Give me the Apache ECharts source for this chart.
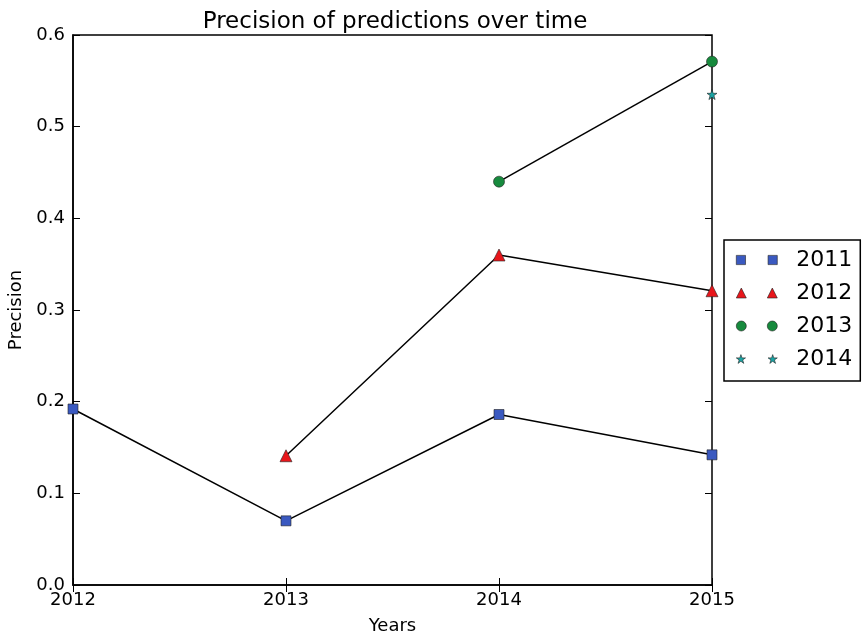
<!DOCTYPE html>
<html>
<head>
<meta charset="utf-8">
<script src="https://cdn.jsdelivr.net/npm/echarts@6/dist/echarts.min.js"></script>
<style>
html,body{margin:0;padding:0;background:#fff;}
#chart{width:862px;height:638px;}
</style>
</head>
<body>
<div id="chart"></div>
<script>
var years = [2012, 2013, 2014, 2015];
var seriesNames = ['2011', '2012', '2013', '2014'];
var v2011 = [0.192, 0.070, 0.186, 0.142];
var v2012 = [null, 0.141, 0.360, 0.321];
var v2013 = [null, null, 0.440, 0.571];
var v2014 = [null, null, null, 0.535];
var yTicks = [0.0, 0.1, 0.2, 0.3, 0.4, 0.5, 0.6];

var STAR = 'path://M50,0L61.8,35.4L100,35.4L69.1,57.3L80.9,95.1L50,72.4L19.1,95.1L30.9,57.3L0,35.4L38.2,35.4Z';
function starAt(x, s) {
  var pts = [[50,0],[61.8,35.4],[100,35.4],[69.1,57.3],[80.9,95.1],[50,72.4],[19.1,95.1],[30.9,57.3],[0,35.4],[38.2,35.4]];
  return 'M' + pts.map(function (p) { return (x + p[0] * s / 100).toFixed(2) + ',' + (p[1] * s / 100).toFixed(2); }).join('L') + 'Z';
}
var legendIcons = [
  'path://M0.5,0.5h9v9h-9z M31.5,0.5h9v9h-9z',
  'path://M5,0L10,10L0,10Z M36,0L41,10L31,10Z',
  'path://M0,5a5,5 0 1,0 10,0a5,5 0 1,0 -10,0z M31,5a5,5 0 1,0 10,0a5,5 0 1,0 -10,0z',
  'path://' + starAt(1, 9) + ' ' + starAt(32, 9)
];
var colors = ['#3a59c0', '#e8161b', '#178a3d', '#1aa5a5'];
var symbols = ['rect', 'triangle', 'circle', STAR];
var sizes = [10, 12, 11, 10];
var vals = [v2011, v2012, v2013, v2014];

function pairs(arr) {
  var out = [];
  for (var i = 0; i < years.length; i++) if (arr[i] !== null) out.push([years[i], arr[i]]);
  return out;
}

var series = vals.map(function (arr, i) {
  return {
    name: seriesNames[i],
    type: 'line',
    data: pairs(arr),
    symbol: symbols[i],
    symbolSize: sizes[i],
    showAllSymbol: true,
    clip: false,
    lineStyle: { color: '#000', width: 1.5 },
    itemStyle: { color: colors[i], borderColor: '#222', borderWidth: 0.6 },
    emphasis: { disabled: true },
    z: 3
  };
});

var font = 'DejaVu Sans';
var chart = echarts.init(document.getElementById('chart'), null, { renderer: 'canvas' });
chart.setOption({
  animation: false,
  backgroundColor: '#fff',
  title: {
    text: 'Precision of predictions over time',
    left: 390, top: 6, textAlign: 'center',
    textStyle: { fontFamily: font, fontSize: 23, fontWeight: 'normal', color: '#000' }
  },
  legend: {
    orient: 'vertical',
    left: 724, top: 240,
    padding: [9, 8, 11, 12],
    itemGap: 11,
    itemWidth: 41, itemHeight: 10,
    borderColor: '#000', borderWidth: 1.5,
    backgroundColor: '#fff',
    selectedMode: false,
    data: seriesNames.map(function (n, i) {
      return { name: n, icon: legendIcons[i], itemStyle: { color: colors[i], borderColor: '#222', borderWidth: 0.6 } };
    }),
    textStyle: { fontFamily: font, fontSize: 22, color: '#000', padding: [0, 0, 0, 14] }
  },
  grid: { left: 73, right: 150, top: 35, bottom: 53, containLabel: false, outerBoundsMode: 'none',
    show: true, borderColor: '#000', borderWidth: 1.5 },
  xAxis: [{
    type: 'value', min: 2012, max: 2015, interval: 1,
    name: 'Years', nameLocation: 'middle', nameGap: 32,
    nameTextStyle: { fontFamily: font, fontSize: 18, color: '#000' },
    axisLine: { lineStyle: { color: '#000', width: 1.5 } },
    axisTick: { inside: true, length: 7, lineStyle: { color: '#000' } },
    axisLabel: { fontFamily: font, fontSize: 18, color: '#000', margin: 6, formatter: function (v) { return String(v); } },
    splitLine: { show: false }
  }, {
    type: 'value', min: 2012, max: 2015, interval: 1, position: 'top',
    axisLine: { show: false },
    axisTick: { inside: true, length: 7, lineStyle: { color: '#000' } },
    axisLabel: { show: false }, splitLine: { show: false }
  }],
  yAxis: [{
    type: 'value', min: 0, max: 0.6, interval: 0.1,
    name: 'Precision', nameLocation: 'middle', nameGap: 46, nameRotate: 90,
    nameTextStyle: { fontFamily: font, fontSize: 18, color: '#000' },
    axisLine: { show: true, lineStyle: { color: '#000', width: 1.5 } },
    axisTick: { show: true, inside: true, length: 7, lineStyle: { color: '#000' } },
    axisLabel: { fontFamily: font, fontSize: 18, color: '#000', margin: 8,
      formatter: function (v) { return yTicks.indexOf(Math.round(v * 10) / 10) >= 0 ? v.toFixed(1) : ''; } },
    splitLine: { show: false }
  }, {
    type: 'value', min: 0, max: 0.6, interval: 0.1, position: 'right',
    axisLine: { show: false },
    axisTick: { show: true, inside: true, length: 7, lineStyle: { color: '#000' } },
    axisLabel: { show: false }, splitLine: { show: false }
  }],
  series: series
});
</script>
</body>
</html>
